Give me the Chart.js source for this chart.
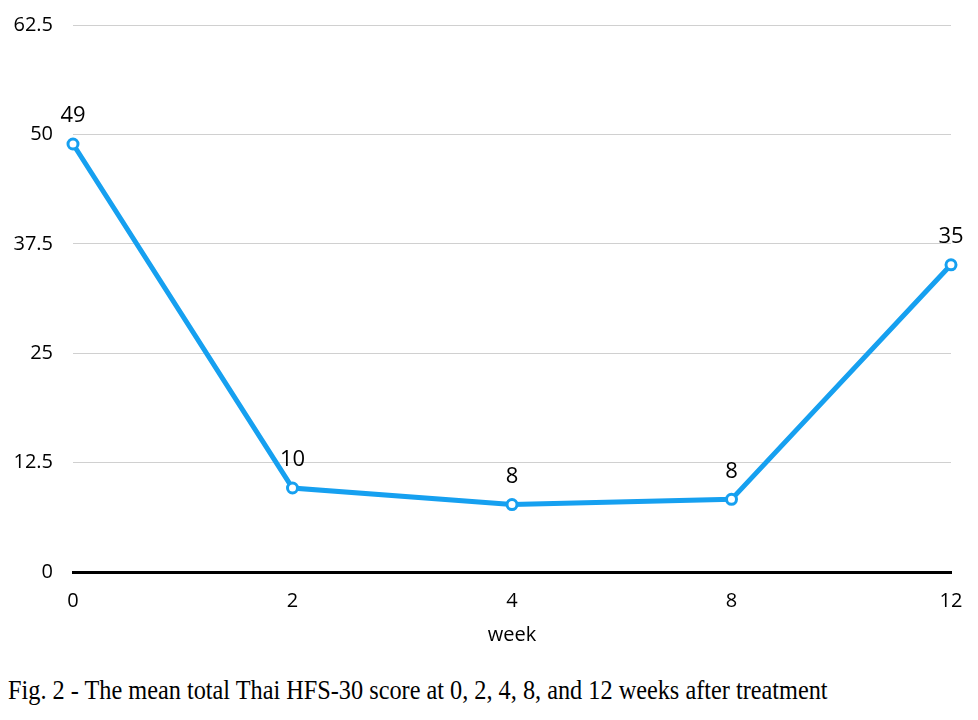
<!DOCTYPE html>
<html>
<head>
<meta charset="utf-8">
<script src="https://cdn.jsdelivr.net/npm/chart.js@4"></script>
<style>
  html, body { margin: 0; padding: 0; background: #fff; }
  #wrap { position: relative; width: 978px; height: 660px; }
  #caption {
    position: absolute; left: 8px; top: 677px;
    font-family: "Liberation Serif", "DejaVu Serif", serif;
    font-size: 27px; line-height: 1; color: #000; white-space: nowrap;
    transform-origin: 0 0;
  }
</style>
</head>
<body>
<div id="wrap"><canvas id="chart" width="978" height="660"></canvas></div>
<div id="caption">Fig. 2 - The mean total Thai HFS-30 score at 0, 2, 4, 8, and 12 weeks after treatment</div>
<script>
// data
const weeks = ['0', '2', '4', '8', '12'];
const meanScore = [48.9, 9.6, 7.7, 8.3, 35.1];
const scoreLabels = ['49', '10', '8', '8', '35'];
const yTicks = [0, 12.5, 25, 37.5, 50, 62.5];

const blue = '#16a0f0';
const tickFont = { family: "'Open Sans', 'Noto Sans', sans-serif", size: 20 };

// value labels above each point
const pointLabels = {
  id: 'pointLabels',
  afterDatasetsDraw(chart) {
    const ctx = chart.ctx;
    const meta = chart.getDatasetMeta(0);
    ctx.save();
    ctx.font = "22px 'Open Sans', 'Noto Sans', sans-serif";
    ctx.fillStyle = '#000';
    ctx.textAlign = 'center';
    ctx.textBaseline = 'middle';
    meta.data.forEach(function(pt, i) {
      ctx.fillText(scoreLabels[i], pt.x, pt.y - 28);
    });
    ctx.restore();
  }
};

const chart = new Chart(document.getElementById('chart').getContext('2d'), {
  type: 'line',
  data: {
    labels: weeks,
    datasets: [{
      data: meanScore,
      borderColor: blue,
      borderWidth: 5,
      tension: 0,
      pointRadius: 5,
      pointBorderWidth: 3,
      pointBackgroundColor: '#fff',
      pointBorderColor: blue
    }]
  },
  options: {
    responsive: false,
    animation: false,
    layout: { padding: { top: 25, right: 27, left: 0, bottom: 12 } },
    plugins: { legend: { display: false }, tooltip: { enabled: false } },
    scales: {
      x: {
        offset: false,
        grid: { display: false, drawTicks: false },
        border: { color: '#000', width: 3 },
        ticks: { color: '#000', font: tickFont, padding: 17, maxRotation: 0 },
        title: { display: true, text: 'week', color: '#000', font: tickFont, padding: { top: 4, bottom: 1 } },
        afterFit(scale) { scale.height = 76; scale.paddingLeft = 0; scale.paddingRight = 0; }
      },
      y: {
        min: 0,
        max: 62.5,
        afterBuildTicks(scale) { scale.ticks = yTicks.map(v => ({ value: v })); },
        grid: {
          drawTicks: false,
          color: ctx => ctx.tick && ctx.tick.value === 0 ? 'rgba(0,0,0,0)' : '#d0d0d0',
          lineWidth: 1
        },
        border: { display: false },
        ticks: { color: '#000', font: tickFont, padding: 20 },
        afterFit(scale) { scale.width = 73; scale.paddingTop = 0; scale.paddingBottom = 0; }
      }
    }
  },
  plugins: [pointLabels]
});

// squeeze the caption to the width it has in the figure
const cap = document.getElementById('caption');
cap.style.transform = 'scaleX(' + (820 / cap.offsetWidth) + ')';
</script>
</body>
</html>
